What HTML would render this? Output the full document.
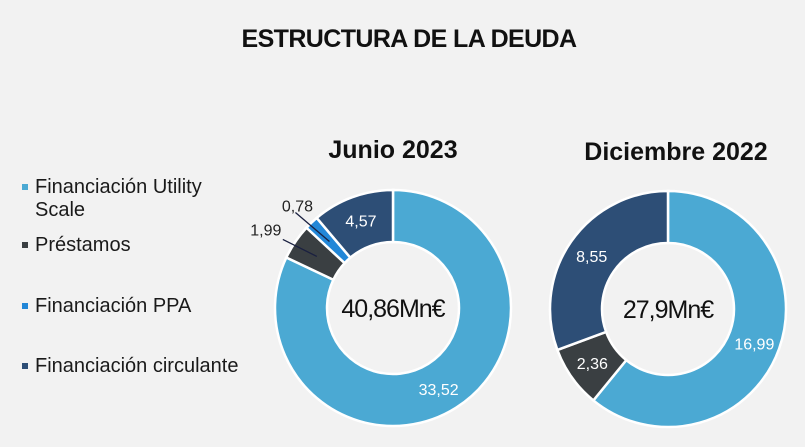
<!DOCTYPE html>
<html><head><meta charset="utf-8">
<style>
body{margin:0;background:#f2f2f2;font-family:"Liberation Sans",sans-serif;}
#wrap{position:relative;width:805px;height:447px;overflow:hidden;background:#f2f2f2;}
.t{position:absolute;white-space:nowrap;}
.leg{position:absolute;left:22px;font-size:20px;color:#1a1a1a;}
.leg i{position:absolute;left:0;top:8px;width:6px;height:6px;}
.leg span{position:absolute;left:13px;top:0;white-space:nowrap;line-height:23px;}
</style></head><body>
<div id="wrap">
<div class="t" style="left:0;width:818px;text-align:center;top:25px;font-size:25px;font-weight:bold;letter-spacing:-0.6px;color:#111">ESTRUCTURA DE LA DEUDA</div>
<div class="t" style="left:293px;width:200px;text-align:center;top:136px;font-size:25px;font-weight:bold;color:#111">Junio 2023</div>
<div class="t" style="left:576px;width:200px;text-align:center;top:138px;font-size:25px;font-weight:bold;color:#111">Diciembre 2022</div>
<div class="leg" style="top:176px"><i style="background:#4ba9d3"></i><span>Financiación Utility<br>Scale</span></div>
<div class="leg" style="top:234px"><i style="background:#3a3f42"></i><span>Préstamos</span></div>
<div class="leg" style="top:295px"><i style="background:#2287d8"></i><span>Financiación PPA</span></div>
<div class="leg" style="top:355px"><i style="background:#2d4e76"></i><span>Financiación circulante</span></div>
<svg id="svg" width="805" height="447" style="position:absolute;left:0;top:0"></svg>
</div>
<script>
const juneValues=[33.52,1.99,0.78,4.57];
const juneLabels=["33,52","1,99","0,78","4,57"];
const decValues=[16.99,2.36,8.55];
const decLabels=["16,99","2,36","8,55"];
const juneTotal="40,86Mn€";
const decTotal="27,9Mn€";
const juneColors=["#4ba9d3","#3a3f42","#2287d8","#2d4e76"];
const decColors=["#4ba9d3","#3a3f42","#2d4e76"];
const ns="http://www.w3.org/2000/svg";
const svg=document.getElementById('svg');
function pt(cx,cy,r,a){return [cx+r*Math.sin(a),cy-r*Math.cos(a)];}
function donut(name,cx,cy,R,r,vals,labs,cols,total,outside){
  const sum=vals.reduce((a,b)=>a+b,0);let a0=0;
  vals.forEach((v,i)=>{
    const a1=a0+v/sum*2*Math.PI;
    const [x1,y1]=pt(cx,cy,R,a0),[x2,y2]=pt(cx,cy,R,a1),[x3,y3]=pt(cx,cy,r,a1),[x4,y4]=pt(cx,cy,r,a0);
    const lg=(a1-a0)>Math.PI?1:0;
    const p=document.createElementNS(ns,'path');
    p.setAttribute('d',`M${x1},${y1}A${R},${R} 0 ${lg} 1 ${x2},${y2}L${x3},${y3}A${r},${r} 0 ${lg} 0 ${x4},${y4}Z`);
    p.setAttribute('fill',cols[i]);p.setAttribute('stroke','#fff');p.setAttribute('stroke-width','2.5');
    
    
    svg.appendChild(p);
    const am=(a0+a1)/2;
    const t=document.createElementNS(ns,'text');
    const small=v/sum<0.06&&outside;
    let tx,ty;
    if(small){
      const [lx,ly]=pt(cx,cy,92,am);
      const dx=i==1?-51:-32, dy=i==1?-27:-36;
      tx=lx+dx;ty=ly+dy;
      const sx=i==1?17:-2, sy=i==1?10:7;
      const l=document.createElementNS(ns,'line');
      l.setAttribute('x1',lx);l.setAttribute('y1',ly);l.setAttribute('x2',tx+sx);l.setAttribute('y2',ty+sy);
      l.setAttribute('stroke','#1a2040');l.setAttribute('stroke-width','1.3');
      
      
      svg.appendChild(l);
      t.setAttribute('fill','#222');
    } else {
      const frac=v/sum>0.5?0.51:0.5;
      [tx,ty]=pt(cx,cy,93,a0+(a1-a0)*frac);
      t.setAttribute('fill','#fff');
    }
    t.setAttribute('x',tx);t.setAttribute('y',ty+6);t.setAttribute('text-anchor','middle');
    t.setAttribute('font-size','16');t.setAttribute('font-family','Liberation Sans, sans-serif');
    t.textContent=labs[i];
    
    
    svg.appendChild(t);
    a0=a1;
  });
  const c=document.createElementNS(ns,'text');
  c.setAttribute('x',cx);c.setAttribute('y',cy+9);c.setAttribute('text-anchor','middle');
  c.setAttribute('font-size','25');c.setAttribute('letter-spacing','-1');c.setAttribute('font-family','Liberation Sans, sans-serif');c.setAttribute('fill','#111');
  c.textContent=total;
  
  
  svg.appendChild(c);
}
donut('junio',393,308,118,66,juneValues,juneLabels,juneColors,juneTotal,true);
donut('diciembre',668,309,118,66,decValues,decLabels,decColors,decTotal,false);
</script>
</body></html>
